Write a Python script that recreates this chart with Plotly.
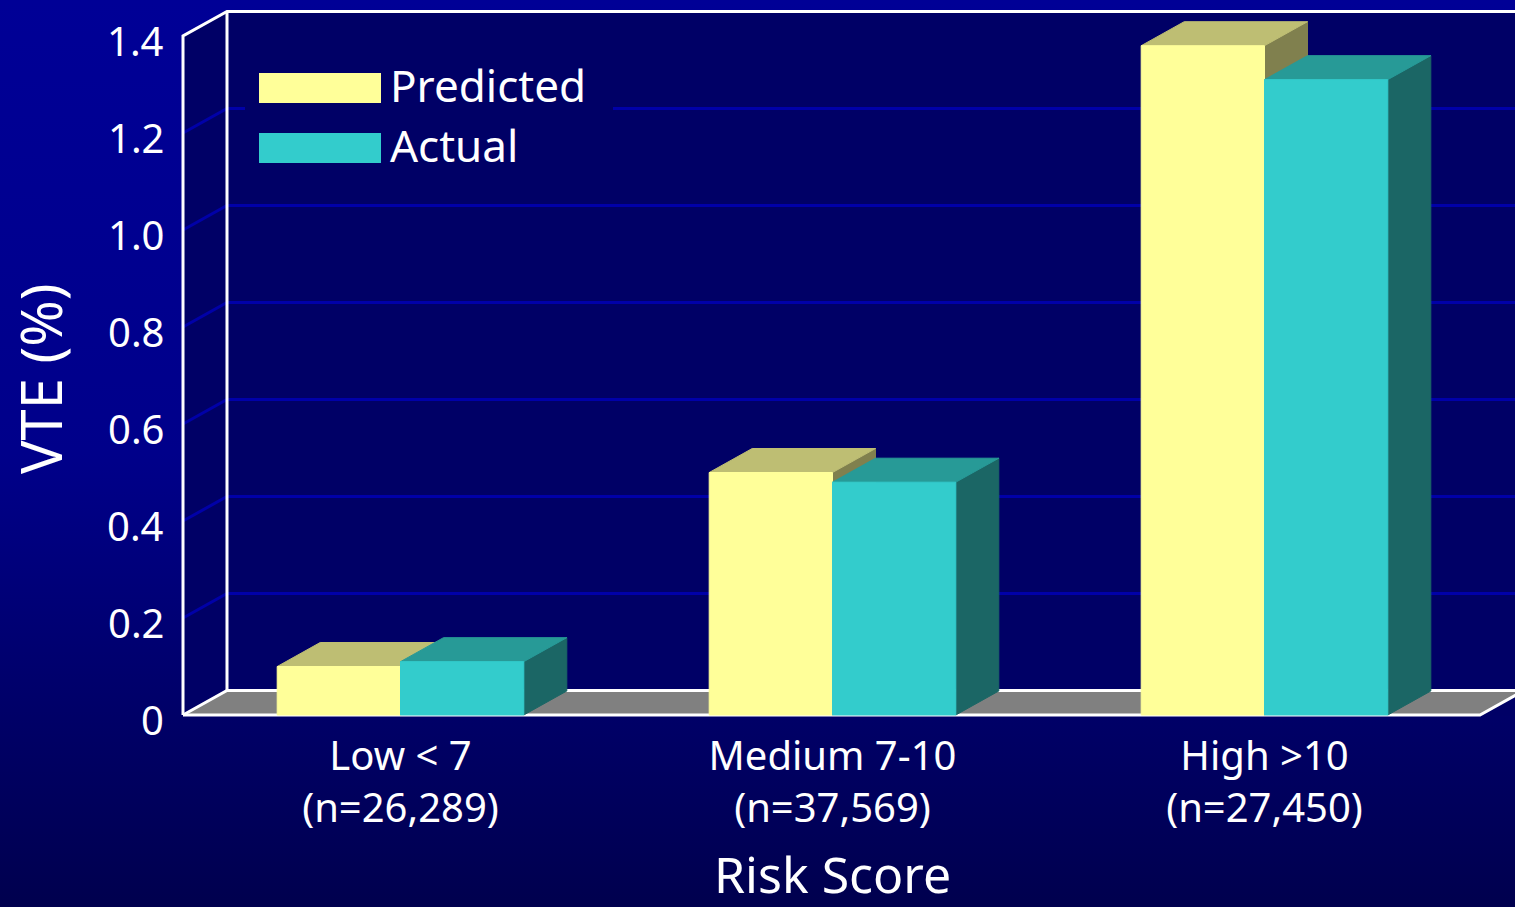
import html
import urllib.parse
import plotly.graph_objects as go

# ---- data -------------------------------------------------------------
categories = ["Low < 7", "Medium 7-10", "High >10"]
sample_sizes = ["(n=26,289)", "(n=37,569)", "(n=27,450)"]
series_names = ["Predicted", "Actual"]
predicted = [0.10, 0.50, 1.38]
actual = [0.11, 0.48, 1.31]
y_tickvals = [0, 0.2, 0.4, 0.6, 0.8, 1.0, 1.2, 1.4]
y_ticktext = ["0", "0.2", "0.4", "0.6", "0.8", "1.0", "1.2", "1.4"]
y_axis_max = 1.4

# ---- page geometry ------------------------------------------------------
W, H = 1515, 907
ML, MR, MT, MB = 178, 0, 0, 182
PX_PER_X = 432.0      # pixels per category step
PX_PER_Y = 485.0      # pixels per 1 % on the value axis
X_ORIGIN_PX = 400.5   # page x of category 0
Y_ORIGIN_PX = 715.0   # page y of value 0 on the front plane


def to_x(px):
    return (px - X_ORIGIN_PX) / PX_PER_X


def to_y(py):
    return (Y_ORIGIN_PX - py) / PX_PER_Y


x_range = [to_x(ML), to_x(W - MR)]
y_range = [to_y(H - MB), to_y(MT)]

# pseudo-3D box
WALL_DX = 44 / PX_PER_X
WALL_DY = 24.5 / PX_PER_Y
X_FRONT = to_x(183)
X_BACK = X_FRONT + WALL_DX
X_FLOOR_END = to_x(1480)
X_FAR = to_x(1700)

BAR_W = 123.3 / PX_PER_X
BAR_DX = 43 / PX_PER_X
BAR_DY = 24 / PX_PER_Y

WALL_COLOR = "#000066"
GRID_COLOR = "#0000A8"
FLOOR_COLOR = "#808080"
EDGE_COLOR = "#FFFFFF"
FACE_COLORS = {
    "Predicted": {"front": "#FFFF99", "top": "#BEBE73", "side": "#80804E"},
    "Actual": {"front": "#33CCCC", "top": "#279A97", "side": "#1B6665"},
}
FONT = "Noto Sans"

fig = go.Figure()


def poly(xs, ys, color, name=None):
    fig.add_trace(go.Scatter(
        x=xs, y=ys, mode="lines", fill="toself", fillcolor=color,
        line=dict(color=color, width=1), hoverinfo="skip",
        showlegend=False, name=name))


def lines(xs, ys, color, width):
    fig.add_trace(go.Scatter(
        x=xs, y=ys, mode="lines", line=dict(color=color, width=width),
        hoverinfo="skip", showlegend=False))


# walls (side + back) in navy
poly([X_FRONT, X_FRONT, X_BACK, X_FAR, X_FAR, X_FRONT],
     [0, y_axis_max, y_axis_max + WALL_DY, y_axis_max + WALL_DY, 0, 0],
     WALL_COLOR)

# gridlines: diagonal on side wall, horizontal on back wall
gx, gy = [], []
for v in y_tickvals[1:-1]:
    gx += [X_FRONT, X_BACK, X_FAR, None]
    gy += [v, v + WALL_DY, v + WALL_DY, None]
lines(gx, gy, GRID_COLOR, 3)

# floor
poly([X_FRONT, X_FLOOR_END, X_FLOOR_END + WALL_DX, X_BACK, X_FRONT],
     [0, 0, WALL_DY, WALL_DY, 0], FLOOR_COLOR)

# white frame edges
frame_x = [X_FRONT, X_FRONT, X_BACK, X_FAR, None,
           X_BACK, X_BACK, None,
           X_FRONT, X_FLOOR_END, X_FLOOR_END + WALL_DX, None,
           X_FRONT, X_BACK, X_FAR]
frame_y = [0, y_axis_max, y_axis_max + WALL_DY, y_axis_max + WALL_DY, None,
           WALL_DY, y_axis_max + WALL_DY, None,
           0, 0, WALL_DY, None,
           0, WALL_DY, WALL_DY]
lines(frame_x, frame_y, EDGE_COLOR, 3)

# bars: front, top and side faces per series
for s, (name, values) in enumerate(zip(series_names, [predicted, actual])):
    fx, fy, tx, ty, sx, sy = [], [], [], [], [], []
    for i, v in enumerate(values):
        x0 = i - BAR_W + s * BAR_W
        x1 = x0 + BAR_W
        fx += [x0, x1, x1, x0, x0, None]
        fy += [0, 0, v, v, 0, None]
        tx += [x0, x1, x1 + BAR_DX, x0 + BAR_DX, x0, None]
        ty += [v, v, v + BAR_DY, v + BAR_DY, v, None]
        sx += [x1, x1 + BAR_DX, x1 + BAR_DX, x1, x1, None]
        sy += [0, BAR_DY, v + BAR_DY, v, 0, None]
    c = FACE_COLORS[name]
    poly(sx, sy, c["side"], name)
    poly(tx, ty, c["top"], name)
    poly(fx, fy, c["front"], name)

# legend panel
shapes = [dict(type="rect", xref="x", yref="y", layer="above",
               x0=to_x(245), x1=to_x(613), y0=to_y(58), y1=to_y(178),
               fillcolor=WALL_COLOR, line=dict(width=0))]
annotations = []
legend_rows = [(73, 103), (133, 163)]
for name, (top, bot) in zip(series_names, legend_rows):
    shapes.append(dict(type="rect", xref="x", yref="y", layer="above",
                       x0=to_x(259), x1=to_x(381), y0=to_y(bot), y1=to_y(top),
                       fillcolor=FACE_COLORS[name]["front"], line=dict(width=0)))
    annotations.append(dict(text=name, xref="x", yref="y", x=to_x(388),
                            y=to_y((top + bot) / 2 - 3), xanchor="left",
                            yanchor="middle", showarrow=False,
                            font=dict(family=FONT, size=44, color="white")))

# value-axis labels, set just left of the front axis edge
for v, label in zip(y_tickvals, y_ticktext):
    annotations.append(dict(text=label, xref="x", yref="y", x=X_FRONT, y=v,
                            xanchor="right", yanchor="middle", xshift=-17,
                            yshift=-4, showarrow=False,
                            font=dict(family=FONT, size=40, color="white")))

# axis titles
plot_w = W - ML - MR
plot_h = H - MT - MB
annotations.append(dict(text="Risk Score", xref="x", yref="paper", x=1.0,
                        y=-(874 - MT - plot_h) / plot_h,
                        xanchor="center", yanchor="middle", showarrow=False,
                        font=dict(family=FONT, size=50, color="white")))
annotations.append(dict(text="VTE (%)", xref="paper", yref="paper",
                        x=(40 - ML) / plot_w, y=1 - (379 - MT) / plot_h,
                        xanchor="center", yanchor="middle", textangle=-90,
                        showarrow=False,
                        font=dict(family=FONT, size=56, color="white")))

# background gradient
svg = (f'<svg xmlns="http://www.w3.org/2000/svg" width="{W}" height="{H}" '
       f'viewBox="0 0 {W} {H}" preserveAspectRatio="none">'
       '<defs><linearGradient id="g" x1="0" y1="0" x2="0" y2="1">'
       '<stop offset="0" stop-color="#000096"/>'
       '<stop offset="0.5" stop-color="#00008A"/>'
       '<stop offset="1" stop-color="#00004E"/>'
       '</linearGradient></defs>'
       f'<rect x="0" y="0" width="{W}" height="{H}" fill="url(#g)"/></svg>')
bg_src = "data:image/svg+xml;charset=utf-8," + urllib.parse.quote(svg)

x_ticktext = [f"{html.escape(c)}<br>{n}" for c, n in zip(categories, sample_sizes)]

fig.update_layout(
    width=W, height=H,
    margin=dict(l=ML, r=MR, t=MT, b=MB, pad=0),
    paper_bgcolor="#000070",
    plot_bgcolor="rgba(0,0,0,0)",
    showlegend=False,
    xaxis=dict(range=x_range, showgrid=False, zeroline=False, showline=False,
               tickmode="array", tickvals=[0, 1, 2], ticktext=x_ticktext,
               ticks="", ticklabelstandoff=4,
               tickfont=dict(family=FONT, size=40, color="white"),
               fixedrange=True),
    yaxis=dict(range=y_range, showgrid=False, zeroline=False, showline=False,
               showticklabels=False, ticks="", fixedrange=True),
    shapes=shapes,
    annotations=annotations,
    images=[dict(source=bg_src, xref="paper", yref="paper",
                 x=-ML / plot_w, y=1 + MT / plot_h,
                 sizex=W / plot_w, sizey=H / plot_h,
                 xanchor="left", yanchor="top", sizing="stretch",
                 layer="below")],
)

fig.write_html("out.html")
